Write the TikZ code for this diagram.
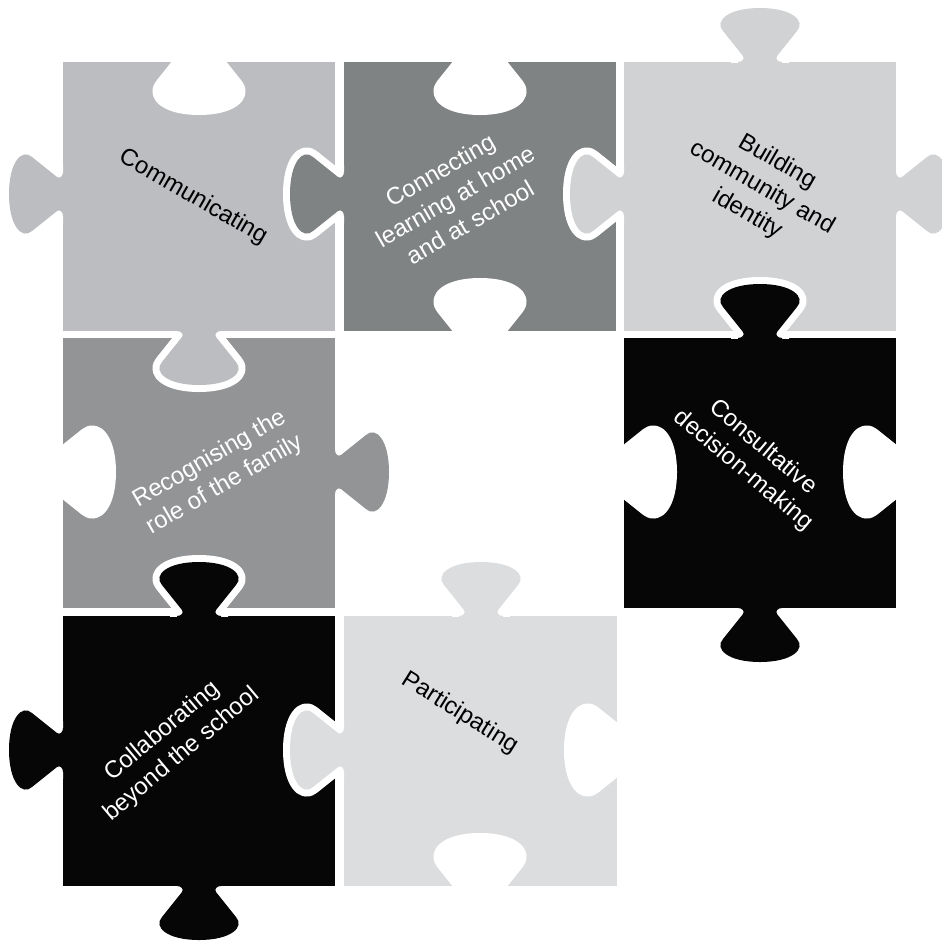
\documentclass[tikz,border=0pt]{standalone}
\usepackage{fontspec}
\setmainfont{Liberation Sans}
\usepackage{xcolor}
\definecolor{pieceA}{HTML}{BCBDC0}
\definecolor{pieceB}{HTML}{808383}
\definecolor{pieceC}{HTML}{D1D2D4}
\definecolor{pieceD}{HTML}{939496}
\definecolor{pieceE}{HTML}{060606}
\definecolor{pieceF}{HTML}{DCDDDF}
% outline of one tab, base on the edge, pointing outwards
\newcommand{\tabshape}{(-22,-2) -- (-22,0) .. controls (-18,0) and (-15,3) .. (-17,6) -- (-37,31) .. controls (-46,41) and (-32,54) .. (0,54) .. controls (32,54) and (46,41) .. (37,31) -- (17,6) .. controls (15,3) and (18,0) .. (22,0) -- (22,-2) -- cycle}
\newcommand{\puztab}[3]{%
  \begin{scope}[shift={#1},rotate=#2]
    \begin{scope}
      \clip (-80,0) rectangle (80,80);
      \draw[white,line width=14pt,line join=round] \tabshape;
    \end{scope}
    \fill[#3] \tabshape;
  \end{scope}}
\newcommand{\puzhole}[2]{%
  \begin{scope}[shift={#1},rotate=#2]
    \filldraw[white,line width=14pt,line join=round] \tabshape;
  \end{scope}}

\begin{document}
\begin{tikzpicture}[x=1pt, y=-1pt,
  piecetext/.style={align=center, font=\fontsize{24}{30}\selectfont},
  darktext/.style={piecetext, text=white}]
\useasboundingbox (0,0) rectangle (942,940);
\fill[white] (0,0) rectangle (942,940);
% pieces
\fill[pieceA] (63,62) rectangle (335,331);
\fill[pieceB] (344,62) rectangle (616,331);
\fill[pieceC] (624,62) rectangle (896,331);
\fill[pieceD] (63,338) rectangle (335,608);
\fill[pieceE] (624,338) rectangle (896,608);
\fill[pieceE] (63,616) rectangle (335,886);
\fill[pieceF] (344,616) rectangle (617,886);
% empty slots
\puzhole{(199,54)}{0}
\puzhole{(480,54)}{0}
\puzhole{(480,339)}{180}
\puzhole{(55,472)}{90}
\puzhole{(616,472)}{90}
\puzhole{(904,472)}{270}
\puzhole{(625,750)}{270}
\puzhole{(480,894)}{180}
% tabs
\puztab{(63,194)}{270}{pieceA}
\puztab{(199,331)}{0}{pieceA}
\puztab{(344,194)}{270}{pieceB}
\puztab{(760,62)}{180}{pieceC}
\puztab{(896,194)}{90}{pieceC}
\puztab{(624,194)}{270}{pieceC}
\puztab{(335,472)}{90}{pieceD}
\puztab{(760,338)}{180}{pieceE}
\puztab{(760,608)}{0}{pieceE}
\puztab{(199,616)}{180}{pieceE}
\puztab{(63,750)}{270}{pieceE}
\puztab{(199,886)}{0}{pieceE}
\puztab{(481,616)}{180}{pieceF}
\puztab{(344,750)}{270}{pieceF}
% labels
\node[piecetext, rotate=-30] (communicating) at (193,197) {Communicating};
\node[darktext, rotate=30] (connecting) at (455,196) {Connecting\\learning at home\\and at school};
\node[piecetext, rotate=-30] (building) at (762,188) {Building\\community and\\identity};
\node[darktext, rotate=30] (recognising) at (217,472) {Recognising the\\role of the family};
\node[darktext, rotate=-40] (consultative) at (753,459) {Consultative\\decision-making};
\node[darktext, rotate=40] (collaborating) at (172,743) {Collaborating\\beyond the school};
\node[piecetext, rotate=-32] (participating) at (460,713) {Participating};
\end{tikzpicture}
\end{document}
